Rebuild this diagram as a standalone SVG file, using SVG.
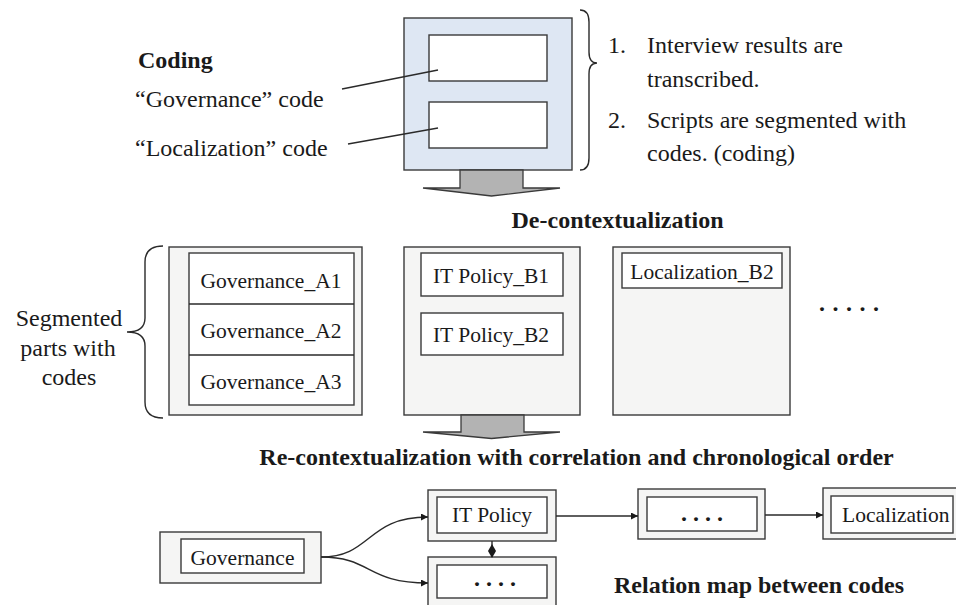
<svg xmlns="http://www.w3.org/2000/svg" width="956" height="605" viewBox="0 0 956 605">
<defs>
<style>
text{font-family:'Liberation Serif','Times New Roman',Tinos,'Noto Serif','DejaVu Serif',FreeSerif,Times,serif;fill:#1a1a1a}
.b{font-weight:bold}
.f24{font-size:24px}
.f21{font-size:21.5px}
.outer{fill:#f5f5f4;stroke:#3a3a3a;stroke-width:1.4}
.inner{fill:#ffffff;stroke:#3a3a3a;stroke-width:1.4}
.ln{fill:none;stroke:#2a2a2a;stroke-width:1.4}
.blk{fill:#b3b3b3;stroke:#3a3a3a;stroke-width:1.3}
.dots{font-weight:bold;font-size:24px}
</style>
<marker id="arr" viewBox="0 0 10 10" refX="10" refY="5" markerWidth="8" markerHeight="7" markerUnits="userSpaceOnUse" orient="auto">
<path d="M0,0 L10,5 L0,10 Z" fill="#1a1a1a"/>
</marker>
</defs>
<rect width="956" height="605" fill="#ffffff"/>

<g id="coding-doc">
<rect x="404" y="18" width="168" height="152" fill="#dee7f3" stroke="#3a3a3a" stroke-width="1.4"/>
<rect class="inner" x="429" y="35" width="118" height="46"/>
<rect class="inner" x="429" y="102" width="118" height="46"/>
</g>

<g id="coding-labels">
<text class="b f24" x="138" y="68">Coding</text>
<text class="f24" x="135" y="107">“Governance” code</text>
<text class="f24" x="135" y="156">“Localization” code</text>
</g>

<g id="steps">
<path class="ln" d="M580,10 Q589,10 589,22 L589,52 Q589,63 597,63 Q589,63 589,74 L589,158 Q589,170 580,170"/>
<text class="f24" x="608" y="53">1.</text>
<text class="f24" x="647" y="53">Interview results are</text>
<text class="f24" x="647" y="87">transcribed.</text>
<text class="f24" x="608" y="128">2.</text>
<text class="f24" x="647" y="128">Scripts are segmented with</text>
<text class="f24" x="647" y="161">codes. (coding)</text>
</g>

<g id="heading-decontext">
<text class="b f24" x="617.5" y="228" text-anchor="middle">De-contextualization</text>
</g>

<g id="segmented-label">
<path class="ln" d="M163,246 Q145,246 145,262 L145,318 Q145,332 127,332 Q145,332 145,346 L145,402 Q145,418 163,418"/>
<text class="f24" x="69" y="326" text-anchor="middle">Segmented</text>
<text class="f24" x="68" y="356" text-anchor="middle">parts with</text>
<text class="f24" x="69" y="385" text-anchor="middle">codes</text>
</g>

<g id="group-A">
<rect class="outer" x="169" y="247" width="193" height="168"/>
<rect class="inner" x="189" y="253" width="165" height="152"/>
<line class="ln" x1="189" y1="304" x2="354" y2="304"/>
<line class="ln" x1="189" y1="355" x2="354" y2="355"/>
<text class="f21" x="271" y="288" text-anchor="middle">Governance_A1</text>
<text class="f21" x="271" y="338" text-anchor="middle">Governance_A2</text>
<text class="f21" x="271" y="389" text-anchor="middle">Governance_A3</text>
</g>

<g id="group-B">
<rect class="outer" x="404" y="247" width="176" height="168"/>
<rect class="inner" x="421" y="253" width="142" height="43"/>
<rect class="inner" x="421" y="313" width="142" height="42"/>
<text class="f21" x="491" y="283" text-anchor="middle">IT Policy_B1</text>
<text class="f21" x="491" y="342" text-anchor="middle">IT Policy_B2</text>
</g>

<g id="group-C">
<rect class="outer" x="613" y="247" width="177" height="168"/>
<rect class="inner" x="622" y="253" width="160" height="35"/>
<text class="f21" x="702" y="279" text-anchor="middle">Localization_B2</text>
</g>

<g id="more-groups">
<text class="dots" x="819" y="311" letter-spacing="7.5">.....</text>
</g>

<g id="heading-recontext">
<text class="b f24" x="576.5" y="465" text-anchor="middle">Re-contextualization with correlation and chronological order</text>
</g>

<g id="node-governance">
<rect class="outer" x="160" y="532" width="161" height="51"/>
<rect class="inner" x="181" y="539" width="123" height="34"/>
<text class="f21" x="242.5" y="565" text-anchor="middle">Governance</text>
</g>

<g id="node-itpolicy">
<rect class="outer" x="428" y="490" width="128" height="51"/>
<rect class="inner" x="437" y="497" width="110" height="36"/>
<text class="f21" x="492" y="522" text-anchor="middle">IT Policy</text>
</g>

<g id="node-other">
<rect class="outer" x="428" y="557" width="128" height="60"/>
<rect class="inner" x="437" y="565" width="110" height="33"/>
<text class="dots" x="474" y="586" letter-spacing="6">....</text>
</g>

<g id="node-middle">
<rect class="outer" x="638" y="489" width="127" height="50"/>
<rect class="inner" x="647" y="497" width="110" height="34"/>
<text class="dots" x="681" y="521" letter-spacing="6">....</text>
</g>

<g id="node-localization">
<rect class="outer" x="823" y="488" width="140" height="51"/>
<rect class="inner" x="831" y="496" width="122" height="37"/>
<text class="f21" x="842" y="522">Localization</text>
</g>

<g id="heading-relation">
<text class="b f24" x="759" y="593" text-anchor="middle">Relation map between codes</text>
</g>

<g id="connectors">
<line class="ln" x1="342" y1="89" x2="438" y2="70"/>
<line class="ln" x1="348" y1="144" x2="438" y2="128"/>
<path class="blk" d="M460,170 L523,170 L523,188 L560,188 L491.5,196 L423,188 L460,188 Z"/>
<path class="blk" d="M461,415 L524,415 L524,432 L560,432 L491.5,438.5 L423,432 L461,432 Z"/>
<path class="ln" d="M321,557 C372,557 366,517 428,517" marker-end="url(#arr)"/>
<path class="ln" d="M321,557 C372,557 366,583 428,583" marker-end="url(#arr)"/>
<line class="ln" x1="556" y1="516" x2="638" y2="516" marker-end="url(#arr)"/>
<line class="ln" x1="765" y1="515" x2="823" y2="515" marker-end="url(#arr)"/>
<line class="ln" x1="492" y1="541" x2="492" y2="557"/>
<polygon points="492,544 496,551 492,558 488,551" fill="#1a1a1a"/>
</g>
</svg>
